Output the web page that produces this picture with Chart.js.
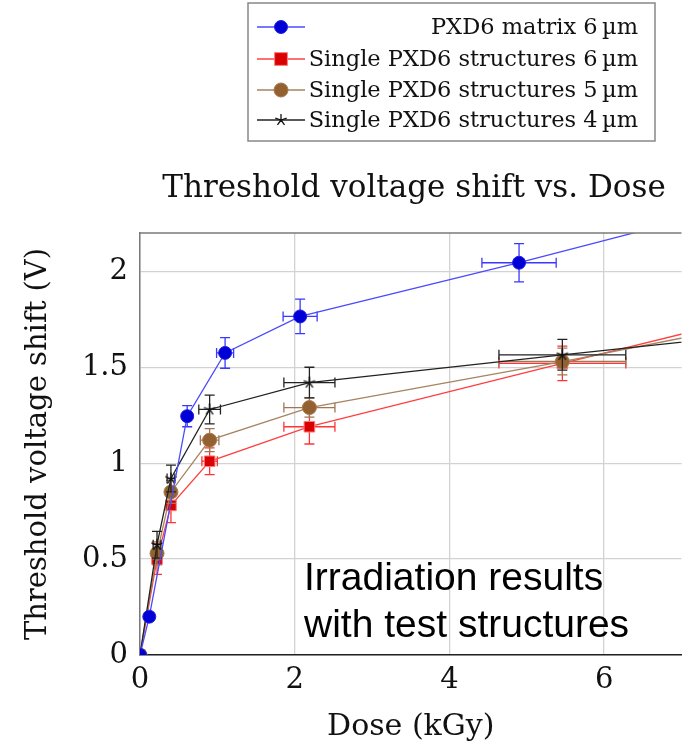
<!DOCTYPE html>
<html>
<head>
<meta charset="utf-8">
<script src="https://cdn.jsdelivr.net/npm/chart.js@4.4.0/dist/chart.umd.min.js"></script>
<style>
  html, body { margin: 0; padding: 0; overflow: hidden; background: #fff; }
  #wrap { width: 690px; height: 745px; }
</style>
</head>
<body>
<div id="wrap"><canvas id="chart" width="690" height="745"></canvas></div>
<script>
// values (dose in kGy, shift in V)
const matrix6Dose = [0, 0.12, 0.61, 1.1, 2.07, 4.9, 10];
const matrix6Shift = [0, 0.2, 1.245, 1.575, 1.765, 2.045, 2.58];
const matrix6DoseErr = [0, 0, 0.05, 0.11, 0.22, 0.48, 1.0];
const matrix6ShiftErr = [0, 0, 0.055, 0.08, 0.09, 0.1, 0.12];

const single6Dose = [0, 0.22, 0.4, 0.9, 2.19, 5.46, 10];
const single6Shift = [0, 0.5, 0.78, 1.01, 1.19, 1.52, 1.97];
const single6DoseErr = [0, 0.05, 0.05, 0.1, 0.33, 0.82, 1.5];
const single6ShiftErr = [0, 0.08, 0.09, 0.07, 0.09, 0.09, 0.1];

const single5Dose = [0, 0.22, 0.4, 0.9, 2.19, 5.46, 10];
const single5Shift = [0, 0.53, 0.85, 1.12, 1.29, 1.53, 1.89];
const single5DoseErr = [0, 0.05, 0.05, 0.12, 0.33, 0.82, 1.5];
const single5ShiftErr = [0, 0.06, 0.06, 0.06, 0.05, 0.07, 0.08];

const single4Dose = [0, 0.22, 0.4, 0.9, 2.19, 5.46, 10];
const single4Shift = [0, 0.575, 0.92, 1.28, 1.42, 1.565, 1.76];
const single4DoseErr = [0, 0.05, 0.05, 0.14, 0.33, 0.82, 1.5];
const single4ShiftErr = [0, 0.07, 0.07, 0.075, 0.08, 0.08, 0.08];

const seriesLabels = [
  'PXD6 matrix 6\u2009\u00b5m',
  'Single PXD6 structures 6\u2009\u00b5m',
  'Single PXD6 structures 5\u2009\u00b5m',
  'Single PXD6 structures 4\u2009\u00b5m',
];
const xTicks = [0, 2, 4, 6];
const yTicks = [0, 0.5, 1, 1.5, 2];

const SERIF = "'DejaVu Serif', 'Liberation Serif', serif";
const SANS = "'Liberation Sans', Arial, sans-serif";

const toPoints = (xs, ys) => xs.map((x, i) => ({ x, y: ys[i] }));

// pgfplots-like 5-arm star mark
function starMark(r, color) {
  const c = document.createElement('canvas');
  const size = Math.ceil(r * 2 + 4);
  c.width = size; c.height = size;
  const g = c.getContext('2d');
  g.strokeStyle = color;
  g.lineWidth = 1.3;
  g.beginPath();
  for (let k = 0; k < 5; k++) {
    const ang = -Math.PI / 2 + k * 2 * Math.PI / 5;
    g.moveTo(size / 2, size / 2);
    g.lineTo(size / 2 + Math.cos(ang) * r, size / 2 + Math.sin(ang) * r);
  }
  g.stroke();
  return c;
}
const STAR = starMark(6, '#111');

const STYLES = [
  { line: '#4a4aff', fill: '#0000d6', border: '#2020e0', err: '#3838ff', shape: 'circle', r: 6.5 },
  { line: '#ff4040', fill: '#d80000', border: '#ff7a7a', err: '#ff3434', shape: 'rect', r: 7.5 },
  { line: '#a8835f', fill: '#93612f', border: '#a87a4e', err: '#9f7656', shape: 'circle', r: 7 },
  { line: '#222222', fill: '#111111', border: '#111111', err: '#222222', shape: STAR, r: 6 },
];

function makeDataset(i, xs, ys, xe, ye, order) {
  const s = STYLES[i];
  return {
    label: seriesLabels[i],
    data: toPoints(xs, ys),
    xErr: xe,
    yErr: ye,
    errColor: s.err,
    borderColor: s.line,
    backgroundColor: s.fill,
    borderWidth: 1.3,
    pointStyle: s.shape,
    pointRadius: s.r,
    pointBorderColor: s.border,
    pointBackgroundColor: s.fill,
    pointBorderWidth: 1,
    tension: 0,
    order,
  };
}

const errorBars = {
  id: 'errorBars',
  beforeDatasetDraw(chart, args) {
    const ds = chart.data.datasets[args.index];
    const { ctx, chartArea: a, scales: { x, y } } = chart;
    const cap = 5;
    ctx.save();
    ctx.beginPath();
    ctx.rect(a.left, a.top, a.right - a.left, a.bottom - a.top);
    ctx.clip();
    ctx.strokeStyle = ds.errColor;
    ctx.lineWidth = 1.3;
    ds.data.forEach((p, i) => {
      const px = x.getPixelForValue(p.x);
      const py = y.getPixelForValue(p.y);
      const ex = ds.xErr[i], ey = ds.yErr[i];
      ctx.beginPath();
      if (ex) {
        const l = x.getPixelForValue(p.x - ex), r = x.getPixelForValue(p.x + ex);
        ctx.moveTo(l, py); ctx.lineTo(r, py);
        ctx.moveTo(l, py - cap); ctx.lineTo(l, py + cap);
        ctx.moveTo(r, py - cap); ctx.lineTo(r, py + cap);
      }
      if (ey) {
        const t = y.getPixelForValue(p.y + ey), b = y.getPixelForValue(p.y - ey);
        ctx.moveTo(px, t); ctx.lineTo(px, b);
        ctx.moveTo(px - cap, t); ctx.lineTo(px + cap, t);
        ctx.moveTo(px - cap, b); ctx.lineTo(px + cap, b);
      }
      ctx.stroke();
    });
    ctx.restore();
  },
};

function drawMarker(ctx, s, cx, cy) {
  ctx.fillStyle = s.fill;
  ctx.strokeStyle = s.border;
  ctx.lineWidth = 1;
  if (s.shape === 'circle') {
    ctx.beginPath(); ctx.arc(cx, cy, s.r, 0, Math.PI * 2); ctx.fill(); ctx.stroke();
  } else if (s.shape === 'rect') {
    const h = s.r * 0.85;
    ctx.fillRect(cx - h, cy - h, 2 * h, 2 * h); ctx.strokeRect(cx - h, cy - h, 2 * h, 2 * h);
  } else {
    ctx.drawImage(s.shape, cx - s.shape.width / 2, cy - s.shape.height / 2);
  }
}

const decorations = {
  id: 'decorations',
  afterDraw(chart) {
    const { ctx, chartArea: a } = chart;
    ctx.save();
    // top frame line
    ctx.strokeStyle = '#7a7a7a';
    ctx.lineWidth = 1.5;
    ctx.beginPath(); ctx.moveTo(a.left, a.top); ctx.lineTo(a.right, a.top); ctx.stroke();

    // title
    ctx.fillStyle = '#111';
    ctx.font = `31px ${SERIF}`;
    ctx.textAlign = 'center';
    ctx.textBaseline = 'alphabetic';
    ctx.fillText('Threshold voltage shift vs. Dose', 414, 197);

    // annotation
    ctx.font = `39px ${SANS}`;
    ctx.textAlign = 'left';
    ctx.fillStyle = '#000';
    ctx.fillText('Irradiation results', 304, 590);
    ctx.fillText('with test structures', 304, 637);

    // legend box
    ctx.fillStyle = '#fff';
    ctx.fillRect(248, 3, 407, 138);
    ctx.strokeStyle = '#888';
    ctx.lineWidth = 1.5;
    ctx.strokeRect(248, 3, 407, 138);
    const rows = [27, 59, 90, 120];
    rows.forEach((ry, i) => {
      const s = STYLES[i];
      ctx.strokeStyle = s.line;
      ctx.lineWidth = 1.3;
      ctx.beginPath(); ctx.moveTo(257, ry); ctx.lineTo(305, ry); ctx.stroke();
      drawMarker(ctx, s, 281, ry);
      ctx.fillStyle = '#111';
      ctx.font = `22.5px ${SERIF}`;
      ctx.textAlign = 'right';
      ctx.textBaseline = 'middle';
      ctx.fillText(seriesLabels[i], 638, ry + 1);
    });
    ctx.restore();
  },
};

new Chart(document.getElementById('chart'), {
  type: 'line',
  data: {
    datasets: [
      makeDataset(0, matrix6Dose, matrix6Shift, matrix6DoseErr, matrix6ShiftErr, 0),
      makeDataset(1, single6Dose, single6Shift, single6DoseErr, single6ShiftErr, 3),
      makeDataset(2, single5Dose, single5Shift, single5DoseErr, single5ShiftErr, 2),
      makeDataset(3, single4Dose, single4Shift, single4DoseErr, single4ShiftErr, 1),
    ],
  },
  options: {
    responsive: false,
    animation: false,
    layout: { padding: { top: 233, left: 0, right: 0, bottom: 0 } },
    plugins: { legend: { display: false }, tooltip: { enabled: false } },
    scales: {
      x: {
        type: 'linear',
        min: 0,
        max: 7,
        afterBuildTicks: (s) => { s.ticks = xTicks.map(v => ({ value: v })); },
        afterFit: (s) => { s.height = 90; },
        grid: { color: '#d2d2d2', lineWidth: 1.3, drawTicks: false },
        border: { color: '#222', width: 1.5 },
        ticks: { color: '#111', font: { family: SERIF, size: 29 }, padding: 8, callback: (v) => String(v) },
        title: { display: true, text: 'Dose (kGy)', color: '#111', font: { family: SERIF, size: 30 }, padding: { bottom: 0 } },
      },
      y: {
        type: 'linear',
        min: 0,
        max: 2.2,
        afterBuildTicks: (s) => { s.ticks = yTicks.map(v => ({ value: v })); },
        afterFit: (s) => { s.width = 140; },
        grid: { color: '#d2d2d2', lineWidth: 1.3, drawTicks: false },
        border: { color: '#7a7a7a', width: 1.5 },
        ticks: { color: '#111', font: { family: SERIF, size: 29 }, padding: 12, callback: (v) => String(v) },
        title: { display: true, text: 'Threshold voltage shift (V)', color: '#111', font: { family: SERIF, size: 29 }, padding: { top: 21 } },
      },
    },
  },
  plugins: [errorBars, decorations],
});
</script>
</body>
</html>
